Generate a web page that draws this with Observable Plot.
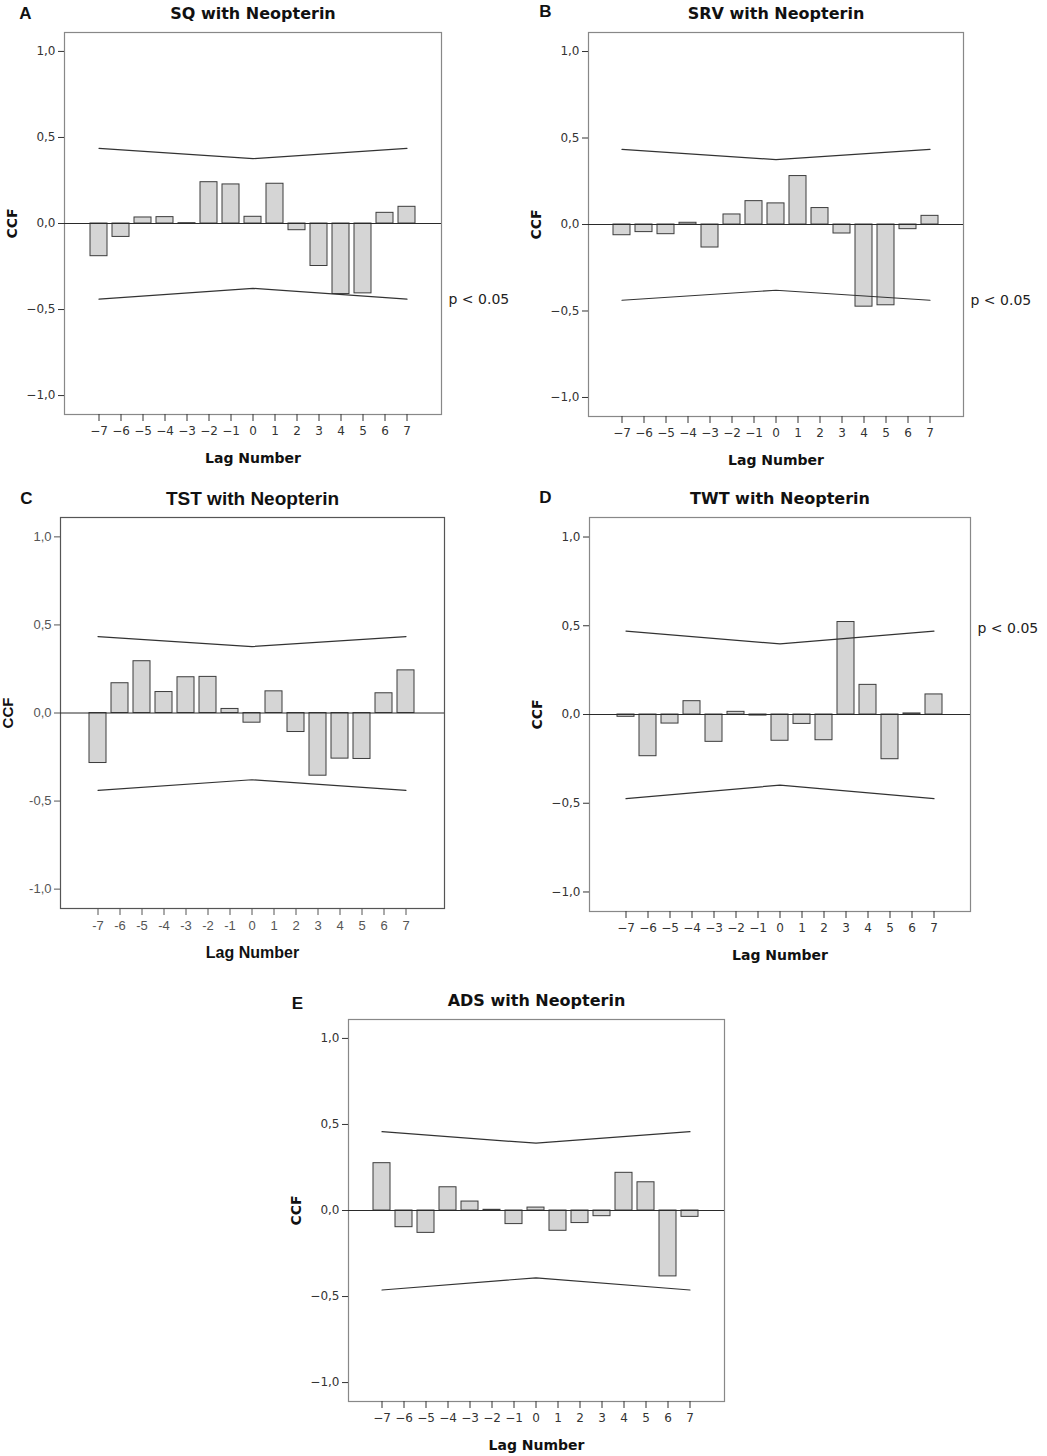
<!DOCTYPE html>
<html>
<head>
<meta charset="utf-8">
<script src="https://cdn.jsdelivr.net/npm/d3@7"></script>
<script src="https://cdn.jsdelivr.net/npm/@observablehq/plot@0.6"></script>
<style>
  html, body { margin: 0; padding: 0; background: #ffffff; }
  #page { position: relative; width: 1047px; height: 1456px; overflow: hidden; background: #fff; }
  #page svg { position: absolute; overflow: visible; }
</style>
</head>
<body>
<div id="page"></div>
<script>
// ---------- data ----------
const lags = [-7, -6, -5, -4, -3, -2, -1, 0, 1, 2, 3, 4, 5, 6, 7];
const yTicks = [-1, -0.5, 0, 0.5, 1];
const limitLags = [-7, 0, 7];

const sqCCF  = [-0.19, -0.078, 0.035, 0.037, 0.002, 0.240, 0.227, 0.039, 0.231, -0.039, -0.247, -0.410, -0.406, 0.062, 0.097];
const srvCCF = [-0.062, -0.044, -0.056, 0.010, -0.133, 0.058, 0.135, 0.122, 0.280, 0.095, -0.052, -0.475, -0.467, -0.027, 0.050];
const tstCCF = [-0.284, 0.169, 0.294, 0.119, 0.203, 0.205, 0.023, -0.055, 0.123, -0.108, -0.356, -0.259, -0.261, 0.112, 0.242];
const twtCCF = [-0.013, -0.235, -0.051, 0.075, -0.154, 0.015, -0.006, -0.148, -0.053, -0.145, 0.521, 0.167, -0.252, 0.006, 0.113];
const adsCCF = [0.275, -0.097, -0.130, 0.135, 0.052, 0.004, -0.079, 0.017, -0.118, -0.073, -0.033, 0.219, 0.164, -0.383, -0.037];

const sqUpper  = [0.437, 0.377, 0.437];  const sqLower  = [-0.440, -0.377, -0.440];
const srvUpper = [0.434, 0.375, 0.434];  const srvLower = [-0.438, -0.380, -0.438];
const tstUpper = [0.434, 0.377, 0.434];  const tstLower = [-0.439, -0.379, -0.439];
const twtUpper = [0.470, 0.398, 0.470];  const twtLower = [-0.474, -0.398, -0.474];
const adsUpper = [0.458, 0.391, 0.458];  const adsLower = [-0.462, -0.391, -0.462];

const titles = ["SQ with Neopterin", "SRV with Neopterin", "TST with Neopterin", "TWT with Neopterin", "ADS with Neopterin"];
const letters = ["A", "B", "C", "D", "E"];
const yLabel = "CCF";
const xLabel = "Lag Number";
const sigLabel = "p < 0.05";

// ---------- layout / style ----------
const SPSS = {font: "'DejaVu Sans', Verdana, sans-serif", tick: 12, tickColor: "#333", titleSize: 16, labelSize: 14, ccfSize: 14, frame: "#888", minus: "\u2212"};
const WIN  = {font: "'Liberation Sans', Arial, sans-serif", tick: 13, tickColor: "#555", titleSize: 19, labelSize: 16, ccfSize: 15, frame: "#555", minus: "-"};

const panels = [
  {values: sqCCF,  upper: sqUpper,  lower: sqLower,  fl: 64,  ft: 32,   fw: 377, fh: 382, st: SPSS, letterDx: -39, letterDy: -19, sig: -0.44},
  {values: srvCCF, upper: srvUpper, lower: srvLower, fl: 588, ft: 32,   fw: 375, fh: 384, st: SPSS, letterDx: -43, letterDy: -21, sig: -0.44},
  {values: tstCCF, upper: tstUpper, lower: tstLower, fl: 60,  ft: 517,  fw: 384, fh: 391, st: WIN,  letterDx: -34, letterDy: -19, sig: null},
  {values: twtCCF, upper: twtUpper, lower: twtLower, fl: 589, ft: 517,  fw: 381, fh: 394, st: SPSS, letterDx: -44, letterDy: -20, sig: 0.487},
  {values: adsCCF, upper: adsUpper, lower: adsLower, fl: 348, ft: 1019, fw: 376, fh: 382, st: SPSS, letterDx: -51, letterDy: -16, sig: null}
];

const page = document.getElementById("page");

panels.forEach((p, k) => {
  const st = p.st;
  const rows = lags.map((lag, i) => ({lag, ccf: p.values[i]}));
  const up = limitLags.map((lag, i) => ({lag, v: p.upper[i]}));
  const lo = limitLags.map((lag, i) => ({lag, v: p.lower[i]}));
  const ML = 58, MT = 30, MB = 58;
  const MR = Math.min(80, 1046 - (p.fl + p.fw));
  const fmtY = d => d.toFixed(1).replace(".", ",").replace("-", st.minus);
  const fmtX = d => String(d).replace("-", st.minus);
  const marks = [
    Plot.frame({stroke: st.frame, strokeWidth: 1.2}),
    Plot.barY(rows, {x: "lag", y: "ccf", fill: "#d5d5d5", stroke: "#3c3c3c", strokeWidth: 1}),
    Plot.ruleY([0], {stroke: "#2a2a2a", strokeWidth: 1.2}),
    Plot.lineY(up, {x: "lag", y: "v", stroke: "#333", strokeWidth: 1.2}),
    Plot.lineY(lo, {x: "lag", y: "v", stroke: "#333", strokeWidth: 1.2}),
    Plot.axisY({ticks: yTicks, tickSize: 6, tickPadding: 3, tickFormat: fmtY, label: null}),
    Plot.axisX({tickSize: 7, tickPadding: 5, tickFormat: fmtX, label: null}),
    Plot.text([titles[k]], {text: d => d, frameAnchor: "top", dy: -19, lineAnchor: "middle", textAnchor: "middle", fontWeight: "bold", fontSize: st.titleSize, fill: "#111", fontFamily: st.font}),
    Plot.text([letters[k]], {text: d => d, frameAnchor: "top-left", dx: p.letterDx, dy: p.letterDy, lineAnchor: "middle", textAnchor: "middle", fontWeight: "bold", fontSize: 17, fill: "#111", fontFamily: "'Liberation Sans', Arial, sans-serif"}),
    Plot.text([yLabel], {text: d => d, frameAnchor: "left", dx: -52, rotate: -90, lineAnchor: "middle", textAnchor: "middle", fontWeight: "bold", fontSize: st.ccfSize, fill: "#111", fontFamily: st.font}),
    Plot.text([xLabel], {text: d => d, frameAnchor: "bottom", dy: 44, lineAnchor: "middle", textAnchor: "middle", fontWeight: "bold", fontSize: st.labelSize, fill: "#111", fontFamily: st.font})
  ];
  if (p.sig !== null) {
    marks.push(Plot.text([{v: p.sig}], {y: "v", text: () => sigLabel, frameAnchor: "right", dx: 7, textAnchor: "start", lineAnchor: "middle", fontSize: 14, fill: "#222", fontFamily: st.font}));
  }
  const chart = Plot.plot({
    width: p.fw + ML + MR,
    height: p.fh + MT + MB,
    marginLeft: ML, marginTop: MT, marginRight: MR, marginBottom: MB,
    x: {type: "band", domain: lags, paddingInner: 0.22, paddingOuter: 1.0},
    y: {domain: [-1.11, 1.11]},
    style: {fontFamily: st.font, fontSize: st.tick + "px", color: st.tickColor, background: "transparent", overflow: "visible"},
    marks
  });
  chart.style.left = (p.fl - ML) + "px";
  chart.style.top = (p.ft - MT) + "px";
  page.appendChild(chart);
});
</script>
</body>
</html>
